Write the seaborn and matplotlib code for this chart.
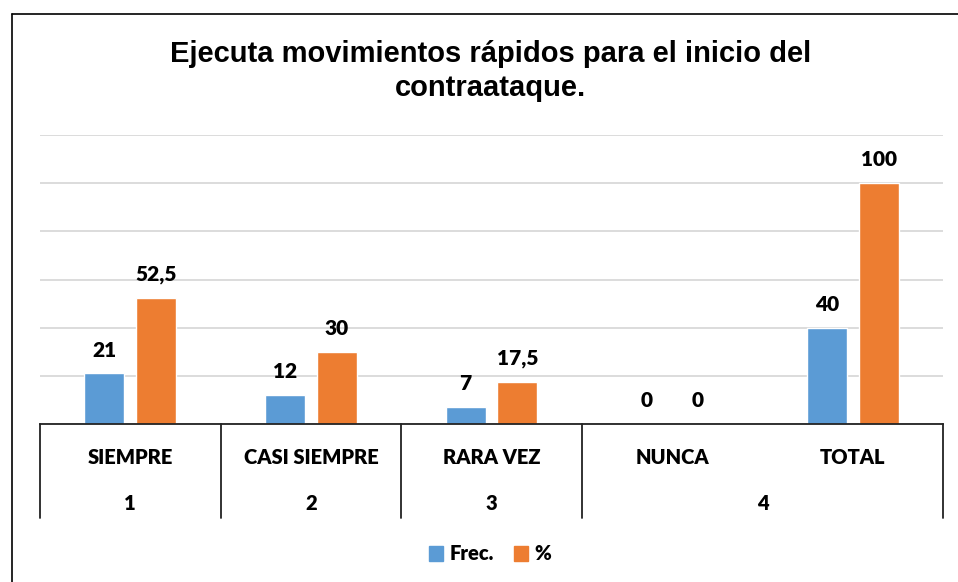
import numpy as np
import pandas as pd
import matplotlib
matplotlib.use("Agg")
import matplotlib.pyplot as plt
import seaborn as sns
from matplotlib.lines import Line2D
from matplotlib.patches import Patch

# ==========================================
# DATA
# ==========================================

categories = ["SIEMPRE", "CASI SIEMPRE", "RARA VEZ", "NUNCA", "TOTAL"]
groups = ["1", "2", "3", "4", "4"]
frec = [21, 12, 7, 0, 40]
porc = [52.5, 30, 17.5, 0, 100]
series = ["Frec.", "%"]
colors = ["#5B9BD5", "#ED7D31"]
title = "Ejecuta movimientos rápidos para el inicio del\ncontraataque."

df = pd.DataFrame({
    "cat": categories * 2,
    "serie": [series[0]] * len(frec) + [series[1]] * len(porc),
    "valor": frec + porc,
})

# ==========================================
# PLOT
# ==========================================

sns.set_style("white")
plt.rcParams["font.family"] = ["Lato", "DejaVu Sans"]
plt.rcParams["text.color"] = "black"

fig = plt.figure(figsize=(9.58, 5.82), dpi=100)
ax = fig.add_axes([40 / 958, 1 - 424 / 582, 903 / 958, 289 / 582])

sns.barplot(data=df, x="cat", y="valor", hue="serie", palette=colors,
            width=0.575, gap=0.23, ax=ax, legend=False, saturation=1)

ax.set_ylim(0, 120)
ax.set_xlim(-0.5, len(categories) - 0.5)
ax.set_yticks(np.arange(0, 121, 20))
ax.yaxis.grid(True, color="#D9D9D9", linewidth=1.3)
ax.set_axisbelow(True)
ax.set_yticklabels([])
ax.tick_params(left=False, bottom=False)
ax.set_xticklabels([])
ax.set_xlabel("")
ax.set_ylabel("")
for s in ["top", "right", "left"]:
    ax.spines[s].set_visible(False)
ax.spines["bottom"].set_color("#222222")
ax.spines["bottom"].set_linewidth(1.3)

# data labels
for cont in ax.containers:
    labels = [("%g" % b.get_height()).replace(".", ",") for b in cont]
    ax.bar_label(cont, labels=labels, padding=10, fontsize=15,
                 fontweight="heavy", color="black")

# multi-level category axis
trans = ax.get_xaxis_transform()
row1_y = -33 / 289
row2_y = -79 / 289
sep_bottom = -94 / 289
for i, c in enumerate(categories):
    ax.text(i, row1_y, c, transform=trans, ha="center", va="center",
            fontsize=14.5, fontweight="heavy", color="black")

group_names = list(dict.fromkeys(groups))
bounds = [-0.5]
for g in group_names:
    idx = [i for i, gg in enumerate(groups) if gg == g]
    ax.text(np.mean(idx), row2_y, g, transform=trans, ha="center",
            va="center", fontsize=14.5, fontweight="heavy", color="black")
    bounds.append(max(idx) + 0.5)
for b in bounds:
    ax.add_line(Line2D([b, b], [0, sep_bottom], transform=trans,
                       color="#222222", linewidth=1.3, clip_on=False))

# title
fig.text(491 / 958, 1 - 71 / 582, title, ha="center", va="center",
         fontsize=21, fontweight="bold", family="Liberation Sans",
         color="black", linespacing=1.3)

# legend
handles = [Patch(color=colors[0], label=series[0]),
           Patch(color=colors[1], label=series[1])]
fig.legend(handles=handles, loc="center", bbox_to_anchor=(490 / 958, 1 - 554 / 582),
           ncol=2, frameon=False, handlelength=0.7, handleheight=0.7,
           handletextpad=0.3, columnspacing=1.0,
           prop={"weight": "heavy", "size": 14.5})

# chart border
fig.add_artist(Line2D([12 / 958, 12 / 958], [0, 1 - 14 / 582],
                      transform=fig.transFigure, color="black", linewidth=1.2))
fig.add_artist(Line2D([12 / 958, 1], [1 - 14 / 582, 1 - 14 / 582],
                      transform=fig.transFigure, color="black", linewidth=1.2))

fig.savefig("out.png", dpi=100)
